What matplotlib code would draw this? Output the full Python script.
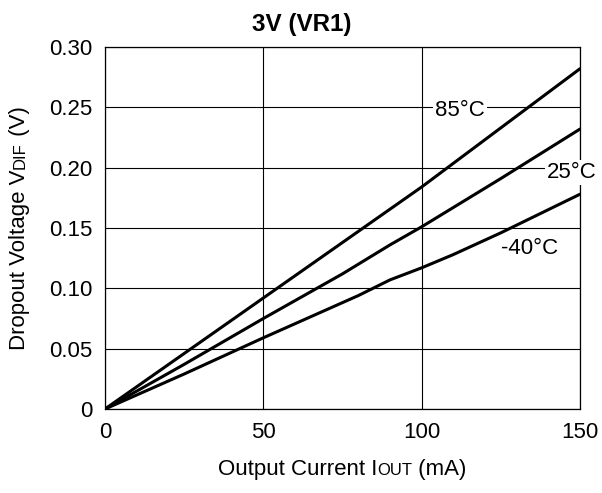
import matplotlib
matplotlib.use("Agg")
import matplotlib.pyplot as plt
from matplotlib.transforms import offset_copy

plt.rcParams['font.family'] = ['Liberation Sans', 'DejaVu Sans']

# curves: output current (mA) -> dropout voltage (V)
i_85 = [0, 25, 50, 75, 100, 125, 150]
v_85 = [0, 0.046, 0.092, 0.138, 0.184, 0.233, 0.282]

i_25 = [0, 25, 50, 75, 80, 85, 90, 100, 125, 150]
v_25 = [0, 0.037, 0.075, 0.112, 0.120, 0.128, 0.136, 0.151, 0.191, 0.232]

i_m40 = [0, 25, 50, 80, 90, 100, 110, 125, 150]
v_m40 = [0, 0.029, 0.059, 0.094, 0.107, 0.117, 0.128, 0.146, 0.178]

x_ticks = [0, 50, 100, 150]
y_ticks = [0, 0.05, 0.10, 0.15, 0.20, 0.25, 0.30]
y_tick_labels = ["0", "0.05", "0.10", "0.15", "0.20", "0.25", "0.30"]

curve_labels = ["85°C", "25°C", "-40°C"]
label_pos = [(112, 0.247), (147.5, 0.1956), (134.2, 0.1334)]

FS = 16

fig = plt.figure(figsize=(6.02, 4.93), dpi=100)
ax = fig.add_axes([105 / 602, 1 - 409 / 493, 475 / 602, 362 / 493])

for xs, ys in [(i_85, v_85), (i_25, v_25), (i_m40, v_m40)]:
    ax.plot(xs, ys, color='black', lw=2.2, solid_capstyle='round', zorder=3)

ax.set_xlim(0, 150)
ax.set_ylim(0, 0.30)
ax.set_xticks(x_ticks)
ax.set_yticks(y_ticks)
ax.set_yticklabels(y_tick_labels)
ax.tick_params(length=0, labelsize=FS, pad=9)
ax.grid(True, color='black', lw=0.8)
ax.set_axisbelow(True)
for s in ax.spines.values():
    s.set_linewidth(0.9)

for txt, (x, y) in zip(curve_labels, label_pos):
    ax.text(x, y, txt, fontsize=FS, ha='center', va='center', zorder=5,
            clip_on=False,
            bbox=dict(facecolor='white', edgecolor='none', pad=1.5))

fig.text(302 / 602, 1 - 24 / 493, "3V (VR1)", fontsize=17.5, fontweight='bold',
         ha='center', va='center')


def mixed_text(pieces, x, y, rotation=0):
    """Draw text pieces (string, size) one after another, centred at x, y."""
    r = fig.canvas.get_renderer()
    objs = []
    for s, size in pieces:
        t = fig.text(0, 0, s, fontsize=size, rotation=rotation,
                     ha='left', va='baseline', rotation_mode='anchor')
        objs.append(t)
    widths = []
    for t in objs:
        bb = t.get_window_extent(r)
        widths.append(bb.height if rotation else bb.width)
    total = sum(widths)
    pos = -total / 2
    for t, w in zip(objs, widths):
        if rotation:
            t.set_transform(offset_copy(fig.transFigure, fig=fig, x=0, y=pos, units='dots'))
        else:
            t.set_transform(offset_copy(fig.transFigure, fig=fig, x=pos, y=0, units='dots'))
        t.set_position((x, y))
        pos += w


mixed_text([("Output Current I", FS), ("OUT", 12), (" (mA)", FS)],
           342 / 602, 1 - 475 / 493)
mixed_text([("Dropout Voltage V", FS), ("DIF", 12), (" (V)", FS)],
           25 / 602, 1 - 228 / 493, rotation=90)

fig.savefig("out.png", dpi=100)
